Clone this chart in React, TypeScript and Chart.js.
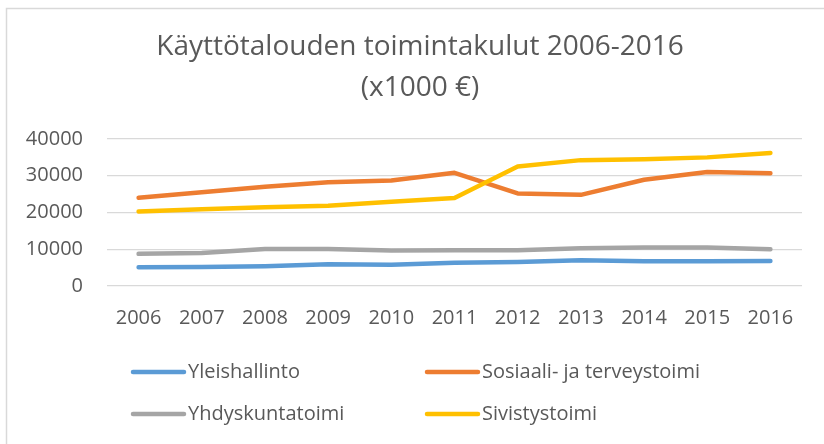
import React, { useEffect, useRef } from "react";
import { Chart, registerables } from "chart.js";

Chart.register(...registerables);

const TITLE_LINES = ["Käyttötalouden toimintakulut 2006-2016", "(x1000 €)"];
const YEARS = ["2006", "2007", "2008", "2009", "2010", "2011", "2012", "2013", "2014", "2015", "2016"];
const SERIES_NAMES = ["Yleishallinto", "Sosiaali- ja terveystoimi", "Yhdyskuntatoimi", "Sivistystoimi"];
const YLEISHALLINTO = [5100, 5200, 5400, 5900, 5750, 6300, 6550, 7000, 6750, 6750, 6800];
const SOSIAALI = [24000, 25500, 27000, 28200, 28700, 30800, 25200, 24800, 28900, 31000, 30700];
const YHDYSKUNTA = [8750, 9000, 10100, 10100, 9650, 9750, 9750, 10300, 10500, 10500, 10000];
const SIVISTYS = [20300, 20900, 21400, 21850, 22950, 23950, 32500, 34250, 34500, 35000, 36200];
const Y_MIN = 0;
const Y_MAX = 40000;
const Y_STEP = 10000;

const COLORS = ["#5B9BD5", "#ED7D31", "#A5A5A5", "#FFC000"];
const TEXT = "#595959";
const FONT = "'Open Sans', 'DejaVu Sans', sans-serif";

export default function App() {
  const ref = useRef<HTMLCanvasElement | null>(null);

  useEffect(() => {
    if (!ref.current) return;
    const values = [YLEISHALLINTO, SOSIAALI, YHDYSKUNTA, SIVISTYS];
    const frame = {
      id: "frame",
      beforeDraw(chart: any) {
        const ctx = chart.ctx;
        ctx.save();
        ctx.fillStyle = "#ffffff";
        ctx.fillRect(0, 0, chart.width, chart.height);
        ctx.strokeStyle = "#d9d9d9";
        ctx.lineWidth = 1.5;
        ctx.beginPath();
        ctx.moveTo(6.5, chart.height);
        ctx.lineTo(6.5, 8.5);
        ctx.lineTo(chart.width, 8.5);
        ctx.stroke();
        // title
        ctx.fillStyle = TEXT;
        ctx.font = `28px ${FONT}`;
        ctx.textAlign = "center";
        ctx.textBaseline = "middle";
        ctx.fillText(TITLE_LINES[0], 420, 47);
        ctx.fillText(TITLE_LINES[1], 420, 88);
        ctx.restore();
      },
    };
    const legend2x2 = {
      id: "legend2x2",
      afterDraw(chart: any) {
        const ctx = chart.ctx;
        const cols = [131, 425];
        const rows = [372, 414];
        ctx.save();
        ctx.font = `20px ${FONT}`;
        ctx.textBaseline = "middle";
        ctx.textAlign = "left";
        SERIES_NAMES.forEach((name, i) => {
          const x = cols[i % 2];
          const y = rows[Math.floor(i / 2)];
          ctx.strokeStyle = COLORS[i];
          ctx.lineWidth = 4.5;
          ctx.lineCap = "round";
          ctx.beginPath();
          ctx.moveTo(x + 2, y);
          ctx.lineTo(x + 53, y);
          ctx.stroke();
          ctx.fillStyle = TEXT;
          ctx.fillText(name, x + 57, y);
        });
        ctx.restore();
      },
    };
    const chart = new Chart(ref.current, {
      type: "line",
      data: {
        labels: YEARS,
        datasets: SERIES_NAMES.map((name, i) => ({
          label: name,
          data: values[i],
          borderColor: COLORS[i],
          backgroundColor: COLORS[i],
          borderWidth: 4.5,
          borderCapStyle: "round",
          borderJoinStyle: "round",
          pointRadius: 0,
          tension: 0,
          fill: false,
          order: 3 - i,
        })),
      },
      options: {
        responsive: false,
        animation: false,
        layout: { padding: { left: 25, right: 22, top: 139, bottom: 94 } },
        plugins: {
          legend: { display: false },
          tooltip: { enabled: false },
          title: { display: false },
        },
        scales: {
          x: {
            offset: true,
            grid: { display: false, drawTicks: false },
            border: { display: false },
            ticks: { color: TEXT, font: { family: FONT, size: 20 }, padding: 20, maxRotation: 0, autoSkip: false },
          },
          y: {
            min: Y_MIN,
            max: Y_MAX,
            grid: { color: "#d9d9d9", lineWidth: 1.3, drawTicks: false },
            border: { display: false },
            afterFit: (scale: any) => {
              scale.width = 82;
            },
            ticks: {
              stepSize: Y_STEP,
              color: TEXT,
              font: { family: FONT, size: 20 },
              padding: 24,
              callback: (v: any) => String(v),
            },
          },
        },
      },
      plugins: [frame, legend2x2],
    } as any);
    return () => chart.destroy();
  }, []);

  return (
    <div style={{ position: "absolute", left: 0, top: 0, width: 824, height: 444 }}>
      <canvas ref={ref} width={824} height={444} />
    </div>
  );
}
